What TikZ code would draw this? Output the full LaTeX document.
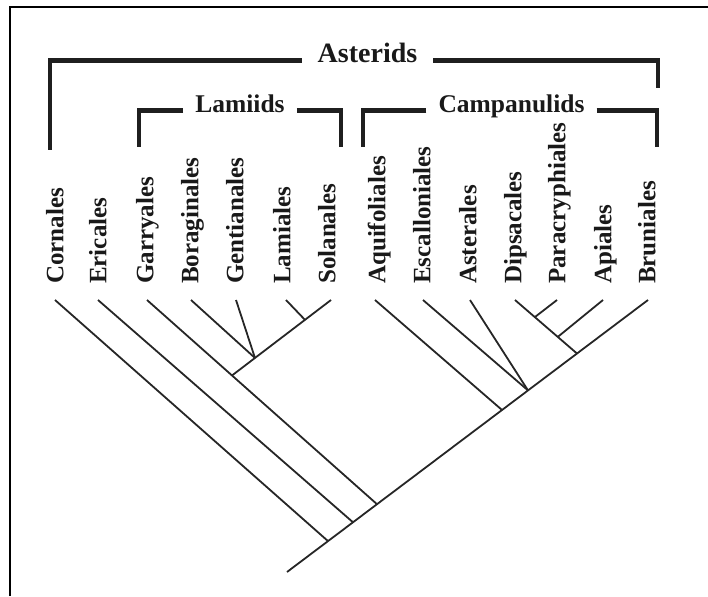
\documentclass[tikz,border=0pt]{standalone}
\usepackage{fontspec}
\setmainfont{Liberation Serif}
\usetikzlibrary{calc}

\begin{document}
\begin{tikzpicture}[
  x=1pt, y=-1pt,
  taxon/.style={rotate=90, anchor=mid west, inner sep=0pt, text=black!90,
                font=\fontsize{25}{30}\selectfont\bfseries},
  grp/.style={anchor=base, inner ysep=0pt, inner xsep=12pt, text=black!90,
              font=\fontsize{25.5}{30}\selectfont\bfseries},
  brk/.style={line width=4.5pt, black!88},
  edg/.style={line width=1.8pt, black!85},
  frm/.style={line width=2pt, black}
]
\useasboundingbox (0,0) rectangle (708,596);
\draw[frm] (9.5,596) -- (9.5,7) -- (708,7);
% ---------------- order labels and branch tips ----------------
\foreach \nm/\xx [count=\i] in {Cornales/61, Ericales/104, Garryales/151,
    Boraginales/196, Gentianales/241, Lamiales/288, Solanales/333,
    Aquifoliales/383, Escalloniales/428, Asterales/474, Dipsacales/519,
    Paracryphiales/563, Apiales/609, Bruniales/653}
  \node[taxon] (lab\i) at (\xx,284) {\nm};
\foreach \tx [count=\i] in {55,98,147,191,236,286,331,375,423,470,515,557,603,648}
  \coordinate (tip\i) at (\tx,300);
% ---------------- clade brackets ----------------
\node[grp, inner xsep=16pt, font=\fontsize{28}{32}\selectfont\bfseries]
  (ast) at (367.5,63) {Asterids};
\node[grp] (lam) at (240,113) {Lamiids};
\node[grp] (cam) at (511.5,113) {Campanulids};
\coordinate (astL) at (50,150);
\coordinate (astR) at (658,88);
\coordinate (lamL) at (139,147);
\coordinate (lamR) at (341,147);
\coordinate (camL) at (363,147);
\coordinate (camR) at (657,147);
\draw[brk] (ast.mid west) -| (astL);
\draw[brk] (ast.mid east) -| (astR);
\draw[brk] (lam.mid west) -| (lamL);
\draw[brk] (lam.mid east) -| (lamR);
\draw[brk] (cam.mid west) -| (camL);
\draw[brk] (cam.mid east) -| (camR);
% ---------------- backbone ----------------
\coordinate (root) at (287,572);
\coordinate (n1) at ($(root)!0.1136!(tip14)$);
\coordinate (n2) at ($(root)!0.1828!(tip14)$);
\coordinate (n3) at ($(root)!0.2493!(tip14)$);
\coordinate (c1) at ($(root)!0.5956!(tip14)$);
\coordinate (c2) at ($(root)!0.6676!(tip14)$);
\coordinate (c3) at ($(root)!0.8033!(tip14)$);
\draw[edg] (root) -- (tip14);
\draw[edg] (tip1) -- (n1);
\draw[edg] (tip2) -- (n2);
% ---------------- lamiids ----------------
\coordinate (l1) at ($(tip3)!0.3696!(n3)$);
\coordinate (l2) at ($(l1)!0.232!(tip7)$);
\coordinate (l3) at ($(l1)!0.737!(tip7)$);
\draw[edg] (tip3) -- (n3);
\draw[edg] (l1) -- (tip7);
\draw[edg] (tip4) -- (l2);
\draw[edg] (tip5) -- (l2);
\draw[edg] (tip6) -- (l3);
% ---------------- campanulids ----------------
\coordinate (c5) at ($(tip11)!0.32!(c3)$);
\coordinate (c4) at ($(tip11)!0.69!(c3)$);
\draw[edg] (tip8) -- (c1);
\draw[edg] (tip9) -- (c2);
\draw[edg] (tip10) -- (c2);
\draw[edg] (tip11) -- (c3);
\draw[edg] (tip12) -- (c5);
\draw[edg] (tip13) -- (c4);
\end{tikzpicture}
\end{document}
